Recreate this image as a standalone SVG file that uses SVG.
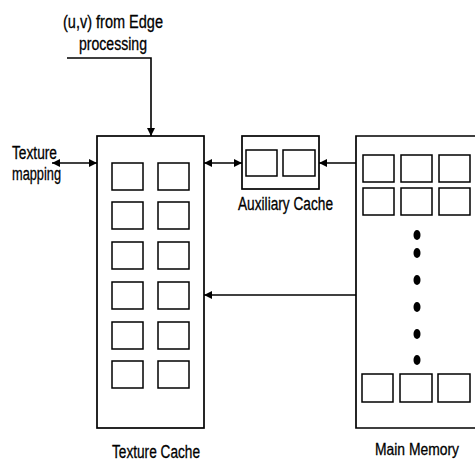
<svg xmlns="http://www.w3.org/2000/svg" width="475" height="463" viewBox="0 0 475 463">
<defs>
<marker id="ah" viewBox="0 0 10 10" refX="10" refY="5" markerWidth="8" markerHeight="8" markerUnits="userSpaceOnUse" orient="auto-start-reverse">
<path d="M0,0 L10,5 L0,10 z" fill="#000"/>
</marker>
<style>
.box{fill:#fff;stroke:#000;stroke-width:1.7}
.cell{fill:#fff;stroke:#000;stroke-width:1.5}
.ln{fill:none;stroke:#000;stroke-width:1.6}
text{font-family:"Liberation Sans",Arial,sans-serif;font-size:18px;fill:#000;stroke:#000;stroke-width:0.3}
</style>
</defs>
<rect width="475" height="463" fill="#fff"/>
<g id="edge-input">
<text x="63" y="28" textLength="100" lengthAdjust="spacingAndGlyphs">(u,v) from Edge</text>
<text x="79" y="50" textLength="68" lengthAdjust="spacingAndGlyphs">processing</text>
</g>
<g id="texture-mapping">
<text x="12" y="159" textLength="45" lengthAdjust="spacingAndGlyphs">Texture</text>
<text x="12" y="180" textLength="49" lengthAdjust="spacingAndGlyphs">mapping</text>
</g>
<g id="texture-cache">
<rect class="box" x="97" y="136" width="107" height="292"/>
<rect class="cell" x="112" y="163" width="31" height="27"/>
<rect class="cell" x="158" y="163" width="31" height="27"/>
<rect class="cell" x="112" y="202" width="31" height="27"/>
<rect class="cell" x="158" y="202" width="31" height="27"/>
<rect class="cell" x="112" y="242" width="31" height="27"/>
<rect class="cell" x="158" y="242" width="31" height="27"/>
<rect class="cell" x="112" y="282" width="31" height="27"/>
<rect class="cell" x="158" y="282" width="31" height="27"/>
<rect class="cell" x="112" y="322" width="31" height="27"/>
<rect class="cell" x="158" y="322" width="31" height="27"/>
<rect class="cell" x="112" y="361" width="31" height="27"/>
<rect class="cell" x="158" y="361" width="31" height="27"/>
<text x="112" y="458" textLength="88" lengthAdjust="spacingAndGlyphs">Texture Cache</text>
</g>
<g id="auxiliary-cache">
<rect class="box" x="242" y="136" width="77" height="53"/>
<rect class="cell" x="246" y="150" width="31" height="26"/>
<rect class="cell" x="283" y="150" width="32" height="26"/>
<text x="238" y="210" textLength="95" lengthAdjust="spacingAndGlyphs">Auxiliary Cache</text>
</g>
<g id="main-memory">
<path class="box" d="M475,136 H356 V428 H475"/>
<rect class="cell" x="363" y="155" width="31" height="27"/>
<rect class="cell" x="401" y="155" width="31" height="27"/>
<rect class="cell" x="439" y="155" width="31" height="27"/>
<rect class="cell" x="363" y="188" width="31" height="27"/>
<rect class="cell" x="401" y="188" width="31" height="27"/>
<rect class="cell" x="439" y="188" width="31" height="27"/>
<ellipse cx="417" cy="235" rx="3.5" ry="5"/>
<ellipse cx="417" cy="253" rx="3.5" ry="5"/>
<ellipse cx="417" cy="280" rx="3.5" ry="5"/>
<ellipse cx="417" cy="307" rx="3.5" ry="5"/>
<ellipse cx="417" cy="334" rx="3.5" ry="5"/>
<ellipse cx="417" cy="360" rx="3.5" ry="5"/>
<rect class="cell" x="362" y="374" width="31" height="28"/>
<rect class="cell" x="400" y="374" width="32" height="28"/>
<rect class="cell" x="438" y="374" width="32" height="28"/>
<text x="375" y="455" style="font-size:16.5px" textLength="84" lengthAdjust="spacingAndGlyphs">Main Memory</text>
</g>
<g id="connectors">
<path class="ln" d="M67,58 H151 V136" marker-end="url(#ah)"/>
<path class="ln" d="M52,163 H97" marker-start="url(#ah)" marker-end="url(#ah)"/>
<path class="ln" d="M204,163 H242" marker-start="url(#ah)" marker-end="url(#ah)"/>
<path class="ln" d="M356,163 H319" marker-end="url(#ah)"/>
<path class="ln" d="M356,295 H204" marker-end="url(#ah)"/>
</g>
</svg>
